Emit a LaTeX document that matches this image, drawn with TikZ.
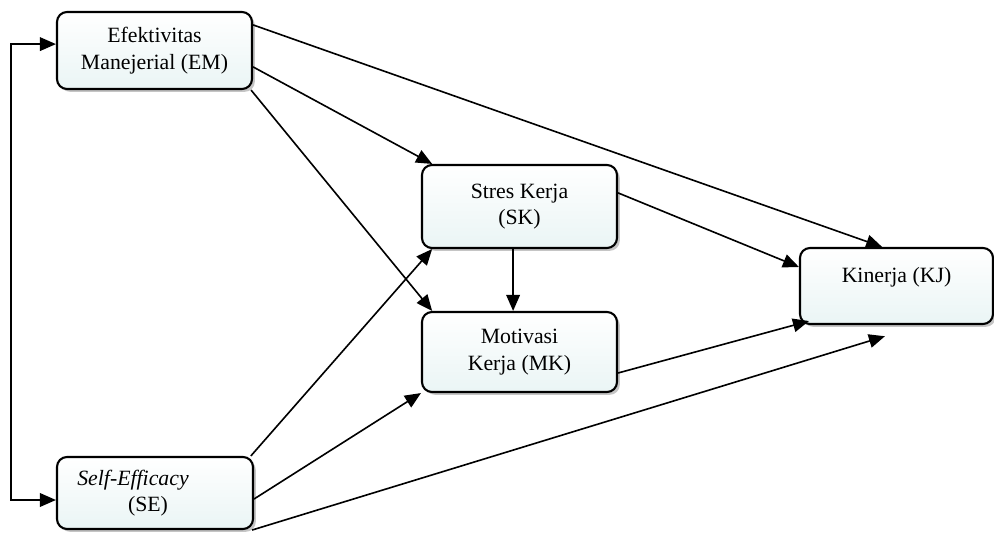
\documentclass[tikz,border=0pt]{standalone}
\usepackage{fontspec}
\setmainfont{Liberation Serif}
\usetikzlibrary{arrows.meta,shadows}
\definecolor{kotakisi}{HTML}{EAF5F5}

\begin{document}
\begin{tikzpicture}[
    kotak/.style={draw, line width=1.5pt, rounded corners=0.25cm,
      top color=white, bottom color=kotakisi,
      drop shadow={shadow xshift=0.07cm, shadow yshift=-0.07cm, fill=black!45, opacity=0.5},
      align=center, inner sep=0pt, font=\fontsize{15.5pt}{18.8pt}\selectfont},
    panah/.style={line width=1.15pt, -{Triangle[length=0.4cm,width=0.34cm]}}
  ]
    \useasboundingbox (0,0) rectangle (24.85,13.3);

    % Variabel
    \node[kotak, minimum width=4.875cm, minimum height=1.925cm] (em) at (3.8625,12.0375) {Efektivitas\\Manejerial (EM)};
    \node[kotak, minimum width=4.9cm, minimum height=1.8cm] (se) at (3.875,0.975) {\textit{Self-Efficacy}\hspace*{1.1cm}\\(SE)\hspace*{0.35cm}};
    \node[kotak, minimum width=4.875cm, minimum height=2.075cm] (sk) at (12.9875,8.1375) {Stres Kerja\\(SK)};
    \node[kotak, minimum width=4.875cm, minimum height=2cm] (mk) at (12.9875,4.5) {Motivasi\\Kerja (MK)};
    \node[kotak, minimum width=4.825cm, minimum height=1.9cm, text depth=0.57cm] (kj) at (22.4125,6.15) {Kinerja (KJ)};

    % Hubungan EM - SE
    \draw[line width=1.15pt, {Triangle[length=0.4cm,width=0.34cm]}-{Triangle[length=0.4cm,width=0.34cm]}]
      ([yshift=0.16cm]em.west) -- ++(-1.125,0) |- ([yshift=-0.175cm]se.west);

    % Panah dari EM
    \draw[panah] ([yshift=0.64cm]em.east) -- ([xshift=-0.36cm]kj.north);
    \draw[panah] ([yshift=-0.41cm]em.east) -- ([xshift=0.28cm]sk.north west);
    \draw[panah] ([xshift=-0.05cm]em.south east) -- ([xshift=0.28cm]mk.north west);

    % Panah dari SE
    \draw[panah] ([xshift=-0.08cm]se.north east) -- ([xshift=0.28cm]sk.south west);
    \draw[panah] ([yshift=-0.15cm]se.east) -- (mk.south west);
    \draw[panah] ([xshift=-0.05cm]se.south east) -- ([xshift=-0.29cm,yshift=-0.28cm]kj.south);

    % Panah dari SK dan MK
    \draw[panah] ([yshift=0.34cm]sk.east) -- ([yshift=0.475cm]kj.west);
    \draw[panah] ([xshift=-0.16cm]sk.south) -- ([xshift=-0.16cm]mk.north);
    \draw[panah] ([yshift=-0.525cm]mk.east) -- ([xshift=0.25cm,yshift=0.1cm]kj.south west);
  \end{tikzpicture}
\end{document}
